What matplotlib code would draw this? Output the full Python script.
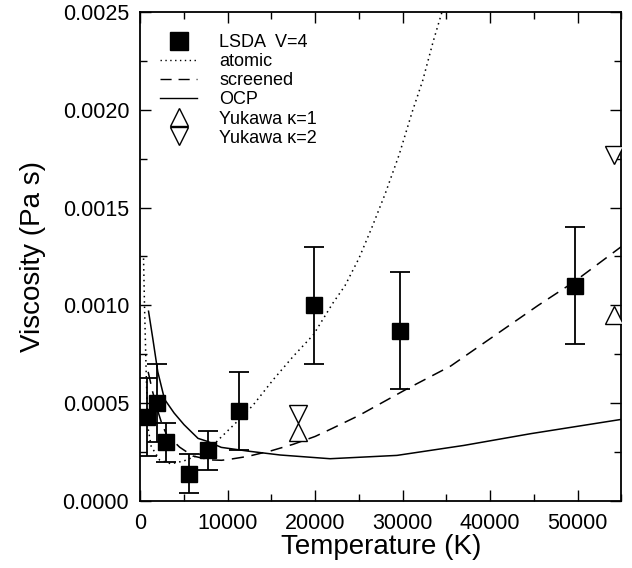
import numpy as np
import matplotlib
matplotlib.use("Agg")
import matplotlib.pyplot as plt
from matplotlib.lines import Line2D
from matplotlib.ticker import MultipleLocator, FormatStrFormatter

plt.rcParams["font.family"] = ["Liberation Sans", "DejaVu Sans"]

# LSDA V=4 simulation points (temperature K, viscosity Pa s, error)
lsda_T = [800, 1890, 2970, 5600, 7700, 11300, 19900, 29700, 49700]
lsda_eta = [0.00043, 0.00050, 0.00030, 0.00014, 0.00026, 0.00046, 0.00100, 0.00087, 0.00110]
lsda_err = [0.00020, 0.00020, 0.00010, 0.00010, 0.00010, 0.00020, 0.00030, 0.00030, 0.00030]

# Yukawa fits
yuk1_T = [17980, 54200]
yuk1_eta = [0.000353, 0.00095]
yuk2_T = [17980, 54200]
yuk2_eta = [0.000443, 0.00177]

# model curves
atomic_T = [370, 480, 670, 860, 1240, 2200, 3500, 5000, 6400, 8000, 9100, 11400,
            12900, 15200, 17500, 19800, 22000, 23400, 25000, 26500, 28000, 29600,
            31100, 32300, 33500, 34500]
atomic_eta = [0.00124, 0.00100, 0.00066, 0.00038, 0.00028, 0.00021, 0.00019, 0.000205,
              0.00023, 0.00027, 0.00032, 0.00042, 0.00049, 0.00062, 0.00074, 0.00085,
              0.00101, 0.00110, 0.00124, 0.00140, 0.00157, 0.00177, 0.00199, 0.00215,
              0.00235, 0.00250]

screened_T = [900, 1400, 2000, 2500, 3000, 4500, 6000, 8000, 9300, 10500, 12300, 15000,
              17500, 20000, 22000, 25000, 30500, 35500, 40500, 45500, 49600, 55000]
screened_eta = [0.00066, 0.00056, 0.00046, 0.00039, 0.00034, 0.000275, 0.00023, 0.00021,
                0.000208, 0.000215, 0.000228, 0.000257, 0.00029, 0.00033, 0.000372,
                0.000437, 0.000573, 0.00069, 0.000845, 0.00100, 0.00112, 0.00130]

ocp_T = [940, 1430, 2000, 2770, 3860, 5000, 6600, 7650, 9260, 12300, 16000, 21700,
         29350, 37000, 44640, 55000]
ocp_eta = [0.00097, 0.00083, 0.00066, 0.00052, 0.00045, 0.00039, 0.00032, 0.000305,
           0.000274, 0.000255, 0.000235, 0.000216, 0.000233, 0.000284, 0.000344, 0.000417]

fig = plt.figure(figsize=(6.32, 5.68), dpi=100)
ax = fig.add_axes([0.222, 0.118, 0.761, 0.861])

ax.plot(atomic_T, atomic_eta, color="black", lw=1.1, linestyle=(0, (1, 2.5)))
ax.plot(screened_T, screened_eta, color="black", lw=1.1, linestyle=(0, (8, 5)))
ax.plot(ocp_T, ocp_eta, color="black", lw=1.1, linestyle="-")

ax.errorbar(lsda_T, lsda_eta, yerr=lsda_err, fmt="s", color="black", ms=11.5,
            ecolor="black", elinewidth=1.3, capsize=7.5, capthick=1.3, zorder=4)
ax.plot(yuk1_T, yuk1_eta, "^", ms=13.5, mfc="white", mec="black", mew=1.0, zorder=5)
ax.plot(yuk2_T, yuk2_eta, "v", ms=13.5, mfc="white", mec="black", mew=1.0, zorder=5)

ax.set_xlim(0, 55000)
ax.set_ylim(0, 0.0025)
ax.xaxis.set_major_locator(MultipleLocator(10000))
ax.xaxis.set_minor_locator(MultipleLocator(5000))
ax.yaxis.set_major_locator(MultipleLocator(0.0005))
ax.yaxis.set_minor_locator(MultipleLocator(0.00025))
ax.yaxis.set_major_formatter(FormatStrFormatter("%.4f"))
ax.tick_params(which="both", direction="in", top=True, right=True, labelsize=15.5,
               width=1.0)
ax.tick_params(which="major", length=8)
ax.tick_params(which="minor", length=5)
ax.tick_params(axis="x", which="major", pad=9)
ax.tick_params(axis="y", which="major", pad=8)
for s in ax.spines.values():
    s.set_linewidth(1.3)

ax.set_xlabel("Temperature (K)", fontsize=20, labelpad=0)
ax.set_ylabel("Viscosity (Pa s)", fontsize=20, labelpad=12)

handles = [
    Line2D([], [], ls="none", marker="s", ms=12.5, color="black"),
    Line2D([], [], color="black", lw=1.0, linestyle=(0, (1, 2.5))),
    Line2D([], [], color="black", lw=1.0, linestyle=(0, (8, 5))),
    Line2D([], [], color="black", lw=1.0),
    Line2D([], [], ls="none", marker="^", ms=13.5, mfc="white", mec="black"),
    Line2D([], [], ls="none", marker="v", ms=13.5, mfc="white", mec="black"),
]
labels = ["LSDA  V=4", "atomic", "screened", "OCP", "Yukawa \u03ba=1", "Yukawa \u03ba=2"]
ax.legend(handles, labels, loc="upper left", bbox_to_anchor=(0.04, 0.955),
          frameon=False, fontsize=13, handlelength=2.1, handletextpad=1.2,
          labelspacing=0.12, borderpad=0, borderaxespad=0)

fig.savefig("out.png", dpi=100)
